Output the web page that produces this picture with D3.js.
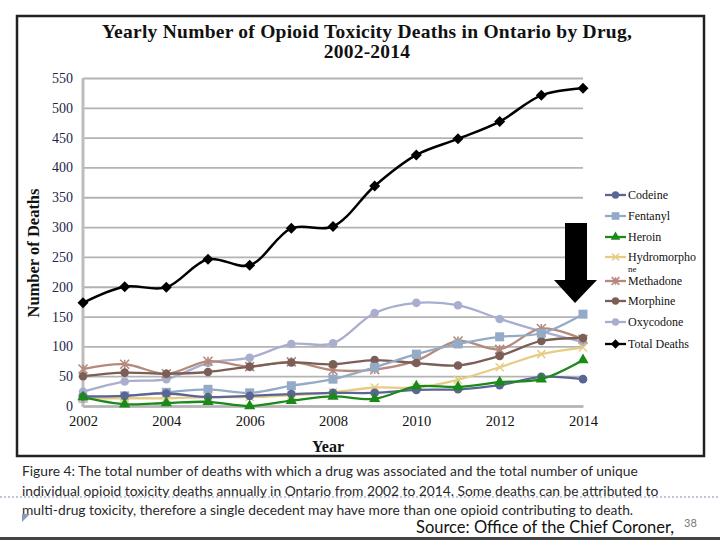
<!DOCTYPE html>
<html><head><meta charset="utf-8">
<script src="https://cdn.jsdelivr.net/npm/d3@7"></script>
<style>body{margin:0;background:#fff}svg{display:block}</style>
</head><body>
<svg id="c" width="720" height="540"></svg>
<script>
const years = [2002,2003,2004,2005,2006,2007,2008,2009,2010,2011,2012,2013,2014];
const codeine       = [16,17,21,15,17,20,22,22,27,28,35,49,45];
const fentanyl      = [13,17,23,28,22,34,45,65,87,104,116,122,154];
const heroin        = [15,3,5,7,0,9,16,12,33,32,40,45,77];
const hydromorphone = [12,13,13,15,15,18,23,31,31,44,65,87,98];
const methadone     = [62,70,54,75,66,74,60,61,76,109,95,130,112];
const morphine      = [50,56,54,57,66,73,70,77,72,68,84,109,114];
const oxycodone     = [24,41,45,72,81,104,105,156,173,169,146,125,107];
const totalDeaths   = [173,200,199,246,236,298,301,369,421,448,477,521,533];
const seriesNames = ["Codeine","Fentanyl","Heroin","Hydromorphone","Methadone","Morphine","Oxycodone","Total Deaths"];
const legendLabels = [["Codeine"],["Fentanyl"],["Heroin"],["Hydromorpho","ne"],["Methadone"],["Morphine"],["Oxycodone"],["Total Deaths"]];
const yTicks = [0,50,100,150,200,250,300,350,400,450,500,550];
const xTicks = [2002,2004,2006,2008,2010,2012,2014];
const titleLines = ["Yearly Number of Opioid Toxicity Deaths in Ontario by Drug,","2002-2014"];
const captionLines = ["Figure 4: The total number of deaths with which a drug was associated and the total number of unique",
 "individual opioid toxicity deaths annually in Ontario from 2002 to 2014. Some deaths can be attributed to",
 "multi-drug toxicity, therefore a single decedent may have more than one opioid contributing to death."];

const seriesData = [codeine,fentanyl,heroin,hydromorphone,methadone,morphine,oxycodone,totalDeaths];
const colors = ["#5b6593","#93abc6","#1b8a1b","#e7cd84","#b58a7c","#7b5f57","#a9aecf","#000000"];
const markers = ["circle","square","triangle","x","asterisk","circle","circle","diamond"];

const svg = d3.select("#c");
svg.append("rect").attr("x",17).attr("y",16).attr("width",687).attr("height",440)
  .attr("fill","#fff").attr("stroke","#222").attr("stroke-width",2.5);

const x = d3.scaleLinear().domain([2002,2014]).range([83,583]);
const y = d3.scaleLinear().domain([0,550]).range([406,78]);

svg.append("g").selectAll("text").data(titleLines).join("text")
  .attr("x",367).attr("y",(d,i)=>38+i*20).attr("text-anchor","middle")
  .attr("font-family","Liberation Serif, serif").attr("font-weight","bold").attr("font-size",19.5)
  .attr("letter-spacing",0.25).attr("fill","#111").text(d=>d);

const gy = svg.append("g").attr("transform","translate(83,0)")
  .call(d3.axisLeft(y).tickValues(yTicks).tickSize(-500).tickPadding(10));
gy.select(".domain").remove();
gy.selectAll(".tick line").attr("stroke","#b3b3b3").attr("stroke-width",1.8);
gy.selectAll(".tick text").attr("font-family","Liberation Serif, serif").attr("font-size",14).attr("fill","#1c2748");
svg.append("line").attr("x1",83).attr("x2",83).attr("y1",78).attr("y2",407).attr("stroke","#bdbdbd").attr("stroke-width",3);

const gx = svg.append("g").attr("transform","translate(0,406)")
  .call(d3.axisBottom(x).tickValues(xTicks).tickFormat(d3.format("d")).tickSize(0).tickPadding(10));
gx.select(".domain").attr("stroke","#b3b3b3").attr("stroke-width",2.5);
gx.selectAll(".tick text").attr("font-family","Liberation Serif, serif").attr("font-size",14.5).attr("fill","#111");

svg.append("text").attr("transform","translate(39,253) rotate(-90)").attr("text-anchor","middle")
  .attr("font-family","Liberation Serif, serif").attr("font-weight","bold").attr("font-size",16.5).attr("fill","#111")
  .text("Number of Deaths");
svg.append("text").attr("x",328).attr("y",452).attr("text-anchor","middle")
  .attr("font-family","Liberation Serif, serif").attr("font-weight","bold").attr("font-size",16).attr("fill","#111")
  .text("Year");

function drawMarker(g, type, cx, cy, col, s){
  if(type==="circle") g.append("circle").attr("cx",cx).attr("cy",cy).attr("r",4.3*s).attr("fill",col);
  else if(type==="square") g.append("rect").attr("x",cx-4.5*s).attr("y",cy-4.5*s).attr("width",9*s).attr("height",9*s).attr("fill",col);
  else if(type==="triangle") g.append("path").attr("d",d3.symbol(d3.symbolTriangle,55*s*s)()).attr("transform",`translate(${cx},${cy})`).attr("fill",col);
  else if(type==="diamond") g.append("path").attr("d",`M${cx},${cy-5.5*s}L${cx+5.5*s},${cy}L${cx},${cy+5.5*s}L${cx-5.5*s},${cy}Z`).attr("fill",col);
  else if(type==="x"){
    const r=4*s;
    g.append("path").attr("d",`M${cx-r},${cy-r}L${cx+r},${cy+r}M${cx-r},${cy+r}L${cx+r},${cy-r}`).attr("stroke",col).attr("stroke-width",1.5);
  } else if(type==="asterisk"){
    const r=4.5*s;
    g.append("path").attr("d",`M${cx-r},${cy-r}L${cx+r},${cy+r}M${cx-r},${cy+r}L${cx+r},${cy-r}M${cx},${cy-r}L${cx},${cy+r}`).attr("stroke",col).attr("stroke-width",1.6);
  }
}

const line = d3.line().x((d,i)=>x(years[i])).y(d=>y(d)).curve(d3.curveCatmullRom.alpha(0.5));
const plot = svg.append("g");
const order = [6,4,5,1,3,0,2,7];
order.forEach(k=>{
  const g = plot.append("g");
  g.append("path").attr("d",line(seriesData[k])).attr("fill","none").attr("stroke",colors[k])
    .attr("stroke-width",k===7?2.5:2.3);
  seriesData[k].forEach((v,i)=>drawMarker(g,markers[k],x(years[i]),y(v),colors[k],1));
});

const lg = svg.append("g");
const ly = [195,216,237,257,281,301,322,344];
seriesNames.forEach((n,k)=>{
  lg.append("line").attr("x1",605).attr("x2",626).attr("y1",ly[k]).attr("y2",ly[k]).attr("stroke",colors[k]).attr("stroke-width",2.3);
  drawMarker(lg,markers[k],615.5,ly[k],colors[k],0.85);
  legendLabels[k].forEach((t,j)=>{
    lg.append("text").attr("x",628).attr("y",ly[k]+4+j*11).attr("font-family","Liberation Serif, serif")
      .attr("font-size",j?9:12).attr("fill","#111").text(t);
  });
});

svg.append("path").attr("d","M565,223L587,223L587,280L597,280L575,303L554,280L565,280Z").attr("fill","#000");

svg.append("line").attr("x1",0).attr("x2",720).attr("y1",497).attr("y2",497)
  .attr("stroke","#aab4c8").attr("stroke-width",1.5).attr("stroke-dasharray","2,2");
svg.append("g").selectAll("text").data(captionLines).join("text")
  .attr("x",22).attr("y",(d,i)=>476+i*19.5)
  .attr("font-family","Lato, sans-serif").attr("font-size",13.8).attr("fill","#2a2a2a").text(d=>d);
svg.append("path").attr("d","M22,514L30,514L22,522Z").attr("fill","#8a9ab8");
svg.append("text").attr("x",416).attr("y",533).attr("font-family","Lato, sans-serif").attr("font-size",16.5)
  .attr("fill","#111").text("Source:  Office of the Chief Coroner,");
svg.append("text").attr("x",684).attr("y",527).attr("font-family","Lato, sans-serif").attr("font-size",11)
  .attr("fill","#777").text("38");
svg.append("rect").attr("x",0).attr("y",537).attr("width",720).attr("height",3).attr("fill","#444");
</script>
</body></html>
